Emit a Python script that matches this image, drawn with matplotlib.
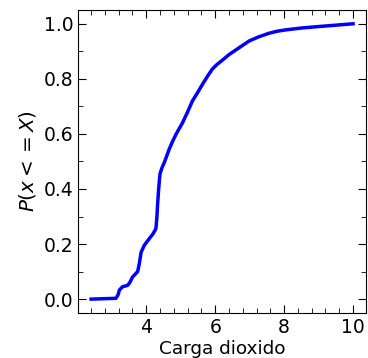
import matplotlib
matplotlib.use('Agg')
import matplotlib.pyplot as plt
from matplotlib.ticker import AutoMinorLocator

# ECDF de carga de dioxido
carga = [2.40, 3.12, 3.18, 3.22, 3.31, 3.46, 3.53, 3.60, 3.75, 3.80, 3.85,
         3.94, 4.09, 4.20, 4.28, 4.31, 4.33, 4.36, 4.38, 4.40, 4.45, 4.52,
         4.60, 4.67, 4.76, 4.86, 4.95, 5.05, 5.20, 5.34, 5.48, 5.63, 5.78,
         5.92, 6.05, 6.21, 6.40, 6.60, 6.80, 6.99, 7.25, 7.57, 7.80, 8.05,
         8.53, 9.00, 9.50, 10.00]
prob = [0.0, 0.003, 0.015, 0.033, 0.045, 0.05, 0.062, 0.08, 0.10, 0.13, 0.17,
        0.195, 0.22, 0.238, 0.256, 0.30, 0.347, 0.40, 0.43, 0.455, 0.475, 0.495,
        0.522, 0.546, 0.572, 0.598, 0.618, 0.64, 0.68, 0.72, 0.748, 0.78, 0.81,
        0.836, 0.852, 0.868, 0.888, 0.905, 0.922, 0.938, 0.952, 0.966, 0.973,
        0.978, 0.985, 0.99, 0.995, 1.0]

fig = plt.figure(figsize=(3.68, 3.58), dpi=100)
ax = fig.add_axes([0.212, 0.126, 0.783, 0.846])

ax.plot(carga, prob, color='blue', lw=2.5)

ax.set_xlabel('Carga dioxido', fontsize=13.3, labelpad=2)
ax.set_ylabel(r'$P(x <= X)$', fontsize=14.3)

ax.xaxis.set_minor_locator(AutoMinorLocator(5))
ax.yaxis.set_minor_locator(AutoMinorLocator(2))
ax.tick_params(which='both', direction='in', top=True, right=True, labelsize=13.5)
ax.tick_params(which='major', length=6)
ax.tick_params(which='minor', length=3.5)

fig.savefig('out.png', dpi=100)
